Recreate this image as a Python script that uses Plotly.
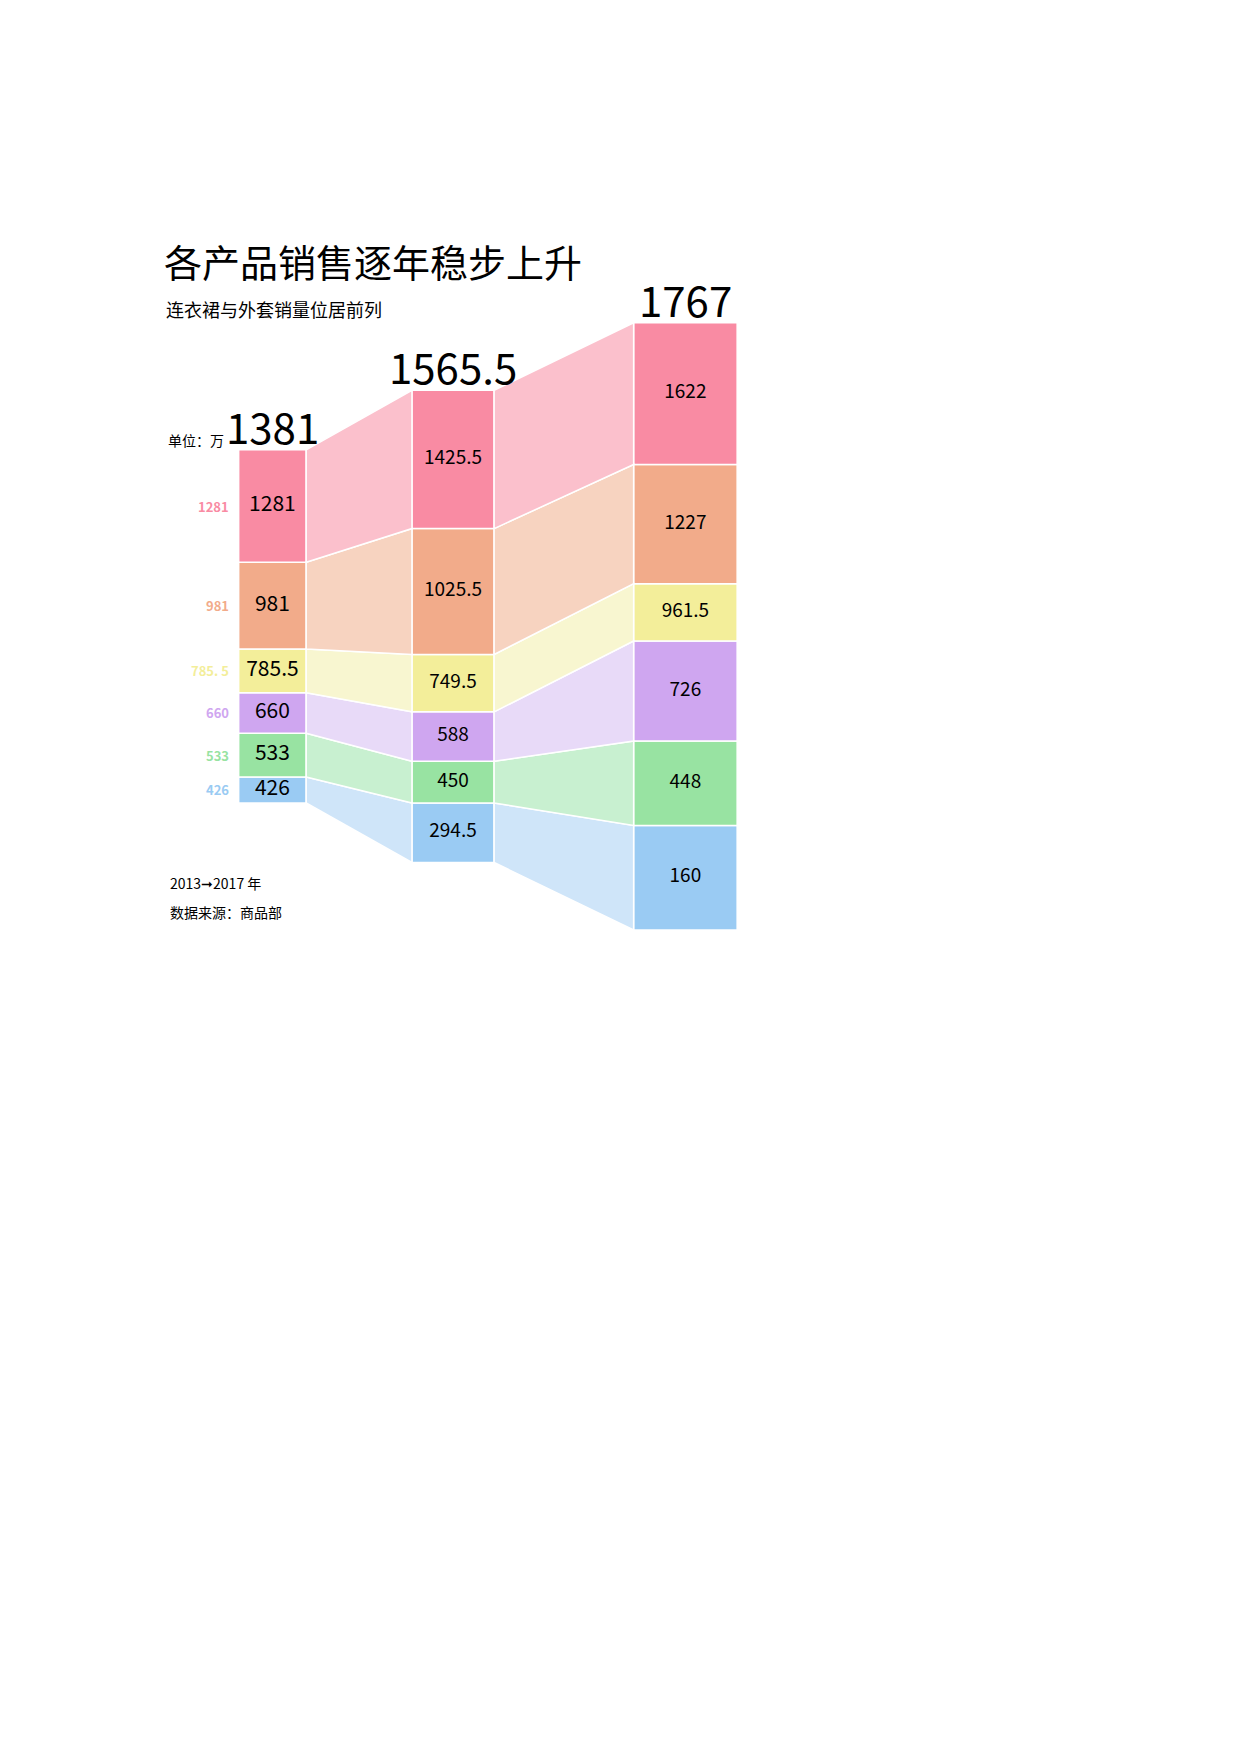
import plotly.graph_objects as go

# stack segments per column, bottom to top (heights in chart units), with labels
labels = [
    ["426", "533", "660", "785.5", "981", "1281"],
    ["294.5", "450", "588", "749.5", "1025.5", "1425.5"],
    ["160", "448", "726", "961.5", "1227", "1622"],
]
heights = [
    [23, 39, 36, 39, 77, 100],
    [53, 37, 44, 51, 112, 123],
    [93, 75, 89, 51, 106, 126],
]
bases = [113, 60, 0]
totals = ["1381", "1565.5", "1767"]
side_labels = ["426", "533", "660", "785. 5", "981", "1281"]

col_x = [235, 395.5, 602]
col_w = [60, 73, 92]

solid = ["#9ACBF3", "#98E3A2", "#CFA6F0", "#F3EE9A", "#F2AB8A", "#F98BA3"]
light = ["#CFE5F9", "#C8F0D0", "#E8DAF8", "#F8F6D0", "#F7D3C0", "#FBC0CC"]
FONT = "Noto Sans CJK SC"
S = 1240 / 1102

fig = go.Figure()

# cumulative boundaries per column
bounds = []
for c in range(3):
    b = [bases[c]]
    for h in heights[c]:
        b.append(b[-1] + h)
    bounds.append(b)

# connecting bands
for c in range(2):
    x0 = col_x[c] + col_w[c] / 2
    x1 = col_x[c + 1] - col_w[c + 1] / 2
    for i in range(6):
        fig.add_trace(go.Scatter(
            x=[x0, x1, x1, x0, x0],
            y=[bounds[c][i], bounds[c + 1][i], bounds[c + 1][i + 1], bounds[c][i + 1], bounds[c][i]],
            fill="toself", fillcolor=light[i], mode="lines",
            line=dict(color="white", width=1.5), hoverinfo="skip", showlegend=False))

# column blocks
for c in range(3):
    fig.add_trace(go.Bar(
        x=[col_x[c]] * 6, y=heights[c], base=bounds[c][:-1], width=col_w[c],
        marker=dict(color=solid, line=dict(color="white", width=1.5)),
        showlegend=False, hoverinfo="skip"))
    mids = [(bounds[c][i] + bounds[c][i + 1]) / 2 for i in range(6)]
    fig.add_trace(go.Scatter(
        x=[col_x[c]] * 6, y=mids, mode="text", text=labels[c],
        textfont=dict(family=FONT, size=21 if c == 0 else 19, color="black"),
        showlegend=False, hoverinfo="skip"))
    fig.add_annotation(x=col_x[c], y=bounds[c][-1], text=totals[c], showarrow=False,
                       yanchor="bottom", yshift=-8,
                       font=dict(family=FONT, size=42, color="black"))

# colored side labels for first column
mids0 = [(bounds[0][i] + bounds[0][i + 1]) / 2 for i in range(6)]
for i in range(6):
    fig.add_annotation(x=198, y=mids0[i], text="<b>" + side_labels[i] + "</b>", showarrow=False,
                       xanchor="right", font=dict(family=FONT, size=13, color=solid[i]))

texts = [
    (137, 225, "各产品销售逐年稳步上升", 38),
    (139, 268, "连衣裙与外套销量位居前列", 18),
    (140, 384, "单位：万", 14),
    (142, 778, "2013➞2017 年", 14),
    (142, 804, "数据来源：商品部", 14),
]
for x, y, t, s in texts:
    fig.add_annotation(x=x, y=820 - y, text=t, showarrow=False, xanchor="left",
                       font=dict(family=FONT, size=s, color="black"))

fig.update_layout(
    width=1240, height=1754, margin=dict(l=0, r=0, t=0, b=0),
    paper_bgcolor="white", plot_bgcolor="white", barmode="overlay",
    xaxis=dict(range=[0, 1102], visible=False, fixedrange=True),
    yaxis=dict(range=[820 - 1560, 820], visible=False, fixedrange=True),
)
fig.write_html("out.html")
